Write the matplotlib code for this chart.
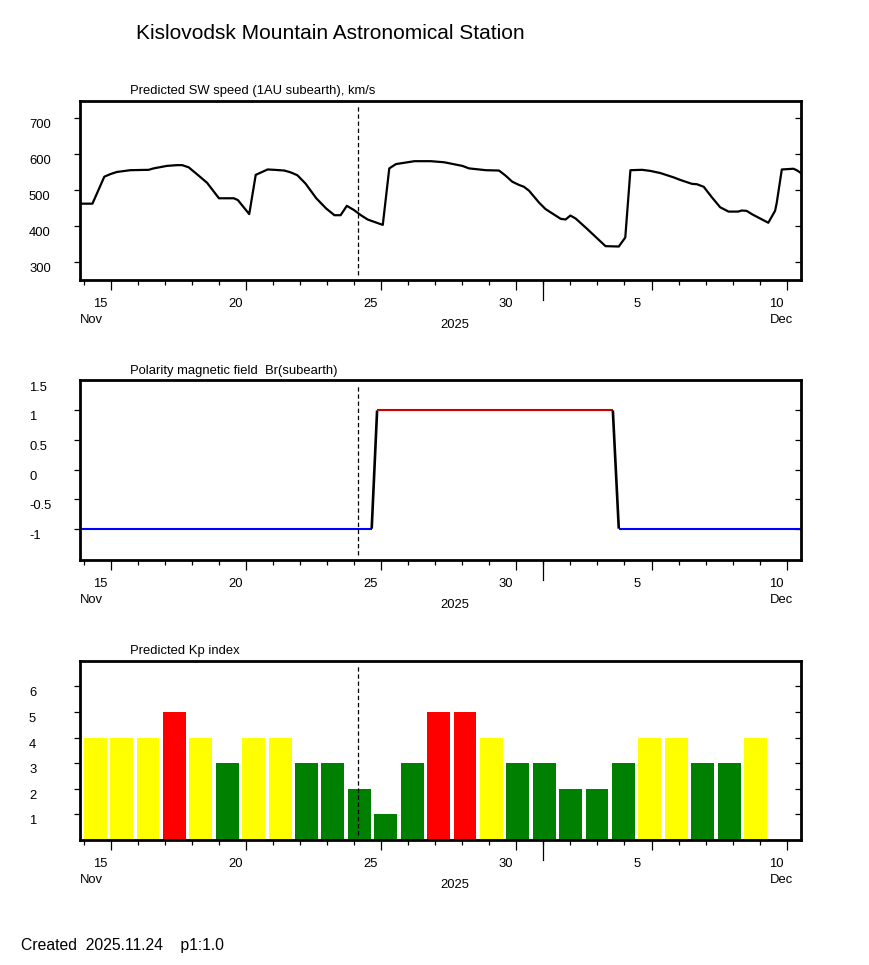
import numpy as np
import matplotlib
matplotlib.use('Agg')
import matplotlib.pyplot as plt
from matplotlib.transforms import ScaledTranslation

plt.rcParams['font.family'] = ['Liberation Sans', 'DejaVu Sans']

# ---------------- data (x = day of November 2025; Dec d = 30 + d) ----------------
sw_day = [13.86, 14.32, 14.76, 14.98, 15.22, 15.72, 16.4, 16.58, 17.08, 17.45, 17.64, 17.88,
          18.2, 18.56, 19.0, 19.55, 19.7, 20.12, 20.36, 20.8, 21.05, 21.42, 21.65, 21.9,
          22.2, 22.6, 22.96, 23.27, 23.5, 23.73, 24.0, 24.25, 24.5, 25.06, 25.3, 25.55,
          26.23, 26.84, 27.33, 28.0, 28.25, 28.87, 29.36, 29.6, 29.85, 30.1, 30.28, 30.47,
          30.84, 31.08, 31.39, 31.64, 31.82, 32.0, 32.19, 32.56, 32.93, 33.3, 33.79, 34.03,
          34.22, 34.65, 34.96, 35.33, 35.82, 36.06, 36.5, 36.68, 36.93, 37.23, 37.54, 37.85,
          38.2, 38.34, 38.52, 38.71, 39.32, 39.57, 39.63, 39.82, 40.25, 40.37, 40.53]
sw_speed = [463, 463, 538, 545, 551, 556, 557, 561, 568, 570, 570, 564,
            544, 521, 478, 478, 473, 434, 543, 558, 557, 555, 550, 542,
            519, 478, 450, 431, 431, 457, 445, 431, 419, 404, 561, 573,
            581, 581, 578, 568, 561, 556, 555, 541, 524, 515, 510, 499,
            466, 448, 433, 421, 419, 430, 422, 397, 371, 345, 344, 369,
            556, 557, 554, 548, 536, 529, 518, 517, 510, 481, 453, 441,
            441, 444, 443, 434, 410, 443, 464, 558, 560, 556, 548]

pol_day = [13.86, 24.65, 24.85, 33.57, 33.79, 40.53]
pol_val = [-1, -1, 1, 1, -1, -1]

kp_first_day = 14.0
kp_step = 0.977
kp_values = [4, 4, 4, 5, 4, 3, 4, 4, 3, 3, 2, 1, 3, 5, 5, 4, 3, 3, 2, 2, 3, 4, 4, 3, 3, 4]

now_day = 24.16
month_boundary = 31.0
x_major = [15, 20, 25, 30, 35, 40]
x_major_labels = ['15', '20', '25', '30', '5', '10']
x_minor = list(range(14, 41))

sw_ticks = [300, 400, 500, 600, 700]
sw_labels = ['300', '400', '500', '600', '700']
pol_ticks = [-1, -0.5, 0, 0.5, 1]
pol_label_vals = [-1, -0.5, 0, 0.5, 1, 1.5]
pol_labels = ['-1', '-0.5', '0', '0.5', '1', '1.5']
kp_ticks = [1, 2, 3, 4, 5, 6]
kp_labels = ['1', '2', '3', '4', '5', '6']

# ---------------- figure ----------------
W, H = 870, 965
DPI = 100
fig = plt.figure(figsize=(W / DPI, H / DPI), dpi=DPI)
FS = 9.4


def px(dx, dy):
    return ScaledTranslation(dx / DPI, -dy / DPI, fig.dpi_scale_trans)


def make_axes(top, bottom, left=80, right=801):
    return fig.add_axes([left / W, 1 - bottom / H, (right - left) / W, (bottom - top) / H])


def style(ax, top, bottom, ylim, yticks, label_vals, labels, subtitle):
    ax.set_xlim(13.86, 40.53)
    ax.set_ylim(*ylim)
    for s in ax.spines.values():
        s.set_linewidth(2.0)
        s.set_zorder(5)
    ax.set_xticks(x_major)
    ax.set_xticks(x_minor, minor=True)
    ax.tick_params(axis='x', which='major', direction='out', length=7.0, width=0.9,
                   labelbottom=False, top=False)
    ax.tick_params(axis='x', which='minor', direction='out', length=3.4, width=0.9, top=False)
    ax.set_yticks(yticks)
    ax.tick_params(axis='y', which='major', direction='out', length=4.5, width=0.9,
                   labelleft=False, right=False)
    ax.yaxis.set_minor_locator(matplotlib.ticker.NullLocator())
    sec = ax.secondary_yaxis('right')
    sec.set_ticks(yticks)
    sec.tick_params(axis='y', direction='in', length=4.0, width=0.9, labelright=False)
    sec.spines['right'].set_visible(False)
    # x tick labels
    for xv, lab in zip(x_major, x_major_labels):
        ax.text(xv, 0, lab, transform=ax.get_xaxis_transform() + px(-18, 26.7),
                ha='left', va='baseline', fontsize=FS)
    # long tick at month boundary
    ax.plot([month_boundary, month_boundary], [0, -20 / (bottom - top)],
            transform=ax.get_xaxis_transform(), color='black', lw=0.9, clip_on=False)
    # y tick labels
    for yv, lab in zip(label_vals, labels):
        ax.text((29 - 80) / 721, yv, lab, transform=ax.get_yaxis_transform() + px(0, 10),
                ha='left', va='baseline', fontsize=FS)
    # month / year texts
    fig.text(80 / W, 1 - (bottom + 42.7) / H, 'Nov', ha='left', va='baseline', fontsize=FS)
    fig.text(770 / W, 1 - (bottom + 42.7) / H, 'Dec', ha='left', va='baseline', fontsize=FS)
    fig.text(440 / W, 1 - (bottom + 48.3) / H, '2025', ha='left', va='baseline', fontsize=FS)
    fig.text(130 / W, 1 - (top - 6.6) / H, subtitle, ha='left', va='baseline', fontsize=FS)
    # current-time marker
    ax.axvline(now_day, ymin=0.03, ymax=0.975, color='black', lw=0.9,
               linestyle=(0, (3.5, 2.2)), zorder=4)


# Panel 1: SW speed
t1, b1 = 100.7, 280.0
ax1 = make_axes(t1, b1)
ax1.plot(sw_day, sw_speed, color='black', lw=1.6, solid_joinstyle='round', zorder=3)
style(ax1, t1, b1, (251, 749), sw_ticks, sw_ticks, sw_labels,
      'Predicted SW speed (1AU subearth), km/s')

# Panel 2: polarity
t2, b2 = 380.3, 560.0
ax2 = make_axes(t2, b2)
for i in range(len(pol_day) - 1):
    v0, v1 = pol_val[i], pol_val[i + 1]
    if v0 == v1:
        c = '#cc0000' if v0 > 0 else '#0000ff'
        lw = 1.5
    else:
        c = 'black'
        lw = 1.9
    ax2.plot(pol_day[i:i + 2], pol_val[i:i + 2], color=c, lw=lw, zorder=3,
             solid_capstyle='butt')
style(ax2, t2, b2, (-1.53, 1.51), pol_ticks, pol_label_vals, pol_labels,
      'Polarity magnetic field  Br(subearth)')

# Panel 3: Kp index
t3, b3 = 660.7, 840.0
ax3 = make_axes(t3, b3)
kp_x = kp_first_day + kp_step * np.arange(len(kp_values))
kp_colors = ['#ff0000' if v >= 5 else ('#ffff00' if v == 4 else '#008000') for v in kp_values]
ax3.bar(kp_x, kp_values, width=0.845, align='edge', color=kp_colors, edgecolor='none', zorder=2)
style(ax3, t3, b3, (0, 7), kp_ticks, kp_ticks, kp_labels, 'Predicted Kp index')

# Title and footer
fig.text(136 / W, 1 - 39.3 / H, 'Kislovodsk Mountain Astronomical Station',
         ha='left', va='baseline', fontsize=15)
fig.text(21 / W, 1 - 950 / H, 'Created  2025.11.24    p1:1.0',
         ha='left', va='baseline', fontsize=11.3)

fig.savefig('out.png', dpi=DPI)
